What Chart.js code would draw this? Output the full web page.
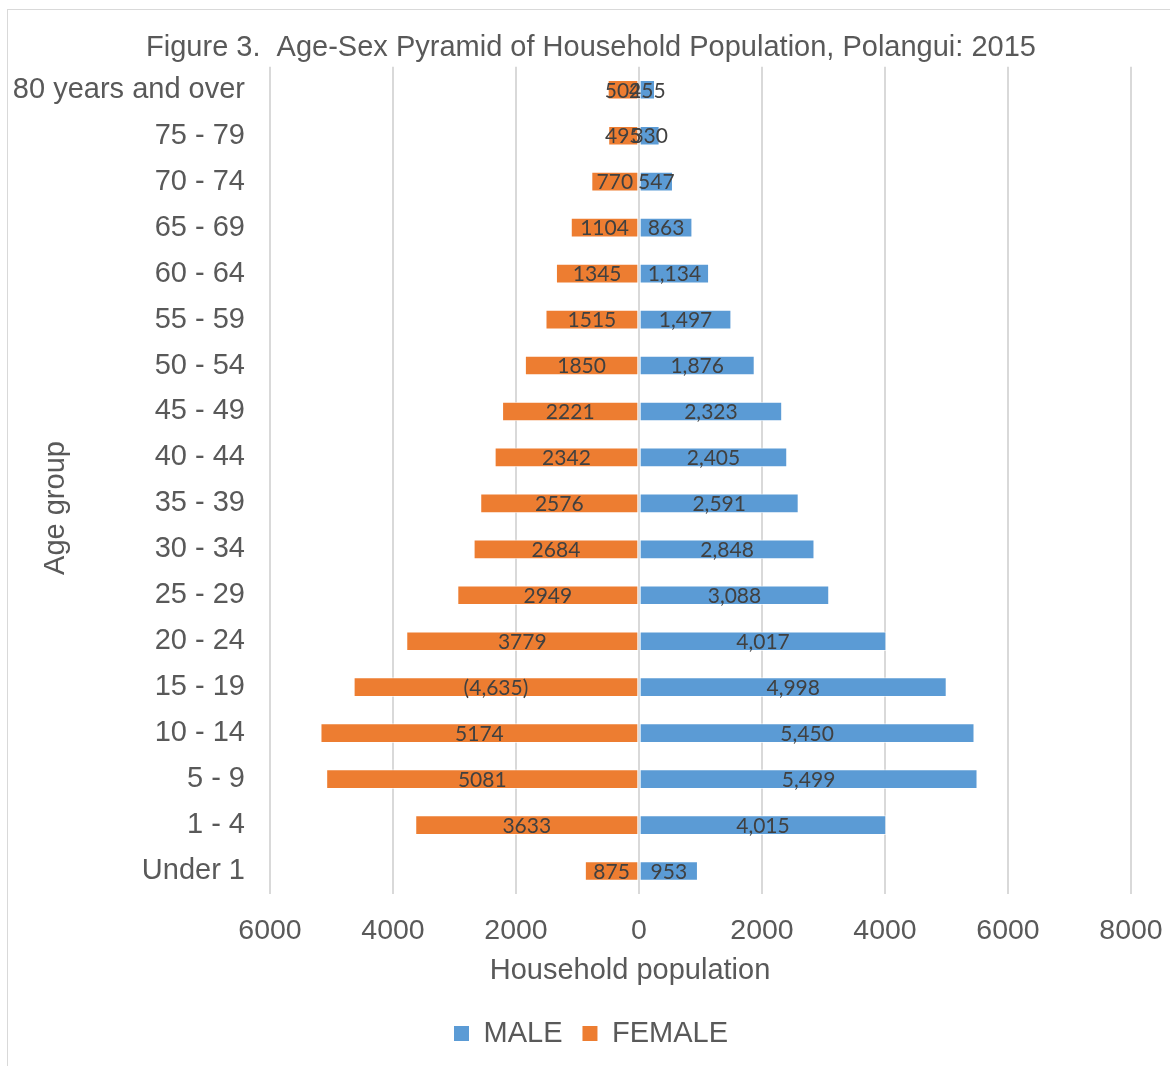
<!DOCTYPE html>
<html>
<head>
<meta charset="utf-8">
<script src="https://cdn.jsdelivr.net/npm/chart.js@4.4.1/dist/chart.umd.min.js"></script>
<style>
  html, body { margin: 0; padding: 0; background: #fff; overflow: hidden; }
  #frame { position: absolute; left: 7px; top: 9px; width: 1200px; height: 1100px; border: 1px solid #d9d9d9; }
  #chart { position: absolute; left: 0; top: 0; }
</style>
</head>
<body>
<div id="frame"></div>
<canvas id="chart" width="1170" height="1066"></canvas>
<script>
// Dados do gráfico (de cima para baixo)
const ageGroups = ['80 years and over', '75 - 79', '70 - 74', '65 - 69', '60 - 64', '55 - 59', '50 - 54', '45 - 49',
  '40 - 44', '35 - 39', '30 - 34', '25 - 29', '20 - 24', '15 - 19', '10 - 14', '5 - 9', '1 - 4', 'Under 1'];
const male = [255, 330, 547, 863, 1134, 1497, 1876, 2323, 2405, 2591, 2848, 3088, 4017, 4998, 5450, 5499, 4015, 953];
const female = [504, 495, 770, 1104, 1345, 1515, 1850, 2221, 2342, 2576, 2684, 2949, 3779, 4635, 5174, 5081, 3633, 875];
const maleLabels = ['255', '330', '547', '863', '1,134', '1,497', '1,876', '2,323', '2,405', '2,591', '2,848', '3,088',
  '4,017', '4,998', '5,450', '5,499', '4,015', '953'];
const femaleLabels = ['504', '495', '770', '1104', '1345', '1515', '1850', '2221', '2342', '2576', '2684', '2949',
  '3779', '(4,635)', '5174', '5081', '3633', '875'];
const xMin = -6000, xMax = 8000, xStep = 2000;

const textColor = '#595959';

// Rótulos dentro das barras
const barLabels = {
  id: 'barLabels',
  afterDatasetsDraw(chart) {
    const ctx = chart.ctx;
    ctx.save();
    ctx.font = '21px Lato';
    ctx.fillStyle = '#404040';
    ctx.textAlign = 'center';
    ctx.textBaseline = 'middle';
    chart.data.datasets.forEach((ds, i) => {
      chart.getDatasetMeta(i).data.forEach((bar, j) => {
        ctx.fillText(ds.labelsText[j], (bar.x + bar.base) / 2, bar.y + 1);
      });
    });
    ctx.restore();
  }
};

// Títulos dos eixos
const axisTitles = {
  id: 'axisTitles',
  afterDraw(chart) {
    const ctx = chart.ctx;
    ctx.save();
    ctx.font = '29px "Liberation Sans"';
    ctx.fillStyle = textColor;
    ctx.textAlign = 'center';
    ctx.textBaseline = 'middle';
    ctx.fillText('Household population', 630, 971);
    ctx.translate(56, 508);
    ctx.rotate(-Math.PI / 2);
    ctx.fillText('Age group', 0, 0);
    ctx.restore();
  }
};

new Chart(document.getElementById('chart').getContext('2d'), {
  type: 'bar',
  data: {
    labels: ageGroups,
    datasets: [{
      label: 'MALE',
      data: male,
      labelsText: maleLabels,
      backgroundColor: '#5B9BD5',
      borderColor: 'rgba(255, 255, 255, 0.6)',
      borderWidth: 1,
      borderSkipped: false
    }, {
      label: 'FEMALE',
      data: female.map(v => -v),
      labelsText: femaleLabels,
      backgroundColor: '#ED7D31',
      borderColor: 'rgba(255, 255, 255, 0.6)',
      borderWidth: 1,
      borderSkipped: false
    }]
  },
  options: {
    indexAxis: 'y',
    responsive: false,
    devicePixelRatio: 1,
    animation: false,
    barThickness: 19,
    layout: { padding: { left: 12, right: 0, top: 0, bottom: 8 } },
    plugins: {
      title: {
        display: true,
        text: 'Figure 3.  Age-Sex Pyramid of Household Population, Polangui: 2015',
        color: textColor,
        font: { family: 'Liberation Sans', size: 29, weight: 'normal' },
        padding: { top: 31, bottom: 1 }
      },
      legend: {
        position: 'bottom',
        labels: {
          color: textColor,
          font: { family: 'Liberation Sans', size: 29 },
          boxWidth: 15,
          boxHeight: 15,
          padding: 20,
          // Quadrados sem borda na legenda
          generateLabels: chart => chart.data.datasets.map((ds, i) => ({
            text: ds.label,
            fillStyle: ds.backgroundColor,
            strokeStyle: ds.backgroundColor,
            fontColor: textColor,
            lineWidth: 0,
            datasetIndex: i
          }))
        }
      },
      tooltip: { enabled: false }
    },
    scales: {
      x: {
        stacked: true,
        min: xMin,
        max: xMax,
        grid: { color: '#d9d9d9', lineWidth: 2, drawTicks: false },
        border: { display: false },
        ticks: {
          stepSize: xStep,
          color: textColor,
          font: { family: 'Liberation Sans', size: 28.5 },
          padding: 20,
          callback: v => Math.abs(v)
        },
        afterFit(scale) {
          scale.height = 105;
          scale.paddingRight = 39;
        }
      },
      y: {
        stacked: true,
        grid: { display: false, drawTicks: false },
        border: { display: false },
        ticks: {
          color: textColor,
          font: { family: 'Liberation Sans', size: 29 },
          padding: 25
        },
        afterFit(scale) { scale.width = 258; }
      }
    }
  },
  plugins: [barLabels, axisTitles]
});
</script>
</body>
</html>
